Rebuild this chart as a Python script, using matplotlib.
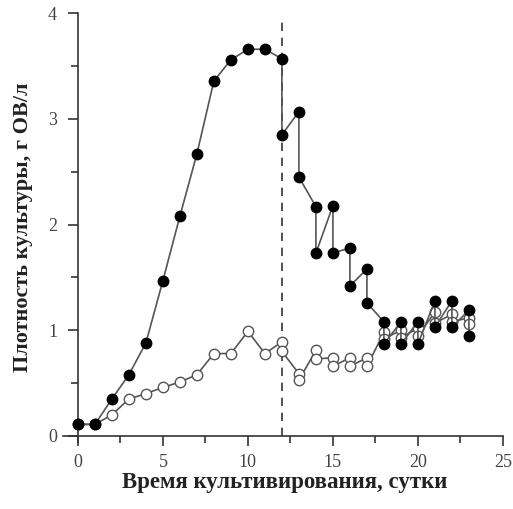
import numpy as np
import matplotlib
matplotlib.use('Agg')
import matplotlib.pyplot as plt
from matplotlib.ticker import MultipleLocator

# filled circles: days repeat after day 12 (before / after dilution)
days_filled = [0, 1, 2, 3, 4, 5, 6, 7, 8, 9, 10, 11, 12, 12, 13, 13, 14, 14,
               15, 15, 16, 16, 17, 17, 18, 18, 19, 19, 20, 20, 21, 21, 22, 22,
               23, 23]
dens_filled = [0.11, 0.11, 0.35, 0.58, 0.88, 1.47, 2.08, 2.67, 3.36, 3.56,
               3.66, 3.66, 3.57, 2.85, 3.07, 2.45, 2.17, 1.73, 2.18, 1.73,
               1.78, 1.42, 1.58, 1.26, 1.08, 0.87, 1.08, 0.87, 1.08, 0.87,
               1.28, 1.03, 1.28, 1.03, 1.19, 0.95]

# open circles
days_open = [0, 1, 2, 3, 4, 5, 6, 7, 8, 9, 10, 11, 12, 12, 13, 13, 14, 14,
             15, 15, 16, 16, 17, 17, 18, 18, 19, 19, 20, 20, 21, 21, 22, 22,
             23, 23]
dens_open = [0.11, 0.11, 0.20, 0.35, 0.40, 0.46, 0.51, 0.58, 0.78, 0.78,
             0.99, 0.78, 0.89, 0.80, 0.59, 0.53, 0.81, 0.73, 0.74, 0.66,
             0.74, 0.66, 0.74, 0.66, 0.98, 0.92, 1.00, 0.93, 1.02, 0.95,
             1.17, 1.07, 1.15, 1.08, 1.12, 1.06]

dilution_day = 12

plt.rcParams['font.family'] = ['Liberation Serif', 'DejaVu Serif']

fig = plt.figure(figsize=(5.13, 5.09), dpi=100)
ax = fig.add_axes([0.122, 0.131, 0.865, 0.847])

line_col = '#555555'
ax.plot([dilution_day, dilution_day], [0, 3.93], ls=(0, (5, 4)),
        color='#333333', lw=1.2, zorder=1)
ax.plot(days_open, dens_open, '-o', color=line_col, lw=1.2,
        mfc='white', mec='#555555', mew=1.0, ms=7.5, zorder=2)
ax.plot(days_filled, dens_filled, '-o', color=line_col, lw=1.2,
        mfc='black', mec='black', ms=7.5, zorder=3)

ax.set_xlim(-0.9, 25.2)
ax.set_ylim(-0.06, 4.02)

for s in ['top', 'right']:
    ax.spines[s].set_visible(False)
ax.spines['left'].set_position(('data', 0))
ax.spines['bottom'].set_position(('data', 0))
ax.spines['left'].set_bounds(-0.06, 4)
ax.spines['bottom'].set_bounds(-0.9, 25)
for s in ['left', 'bottom']:
    ax.spines[s].set_color('#333333')
    ax.spines[s].set_linewidth(1.2)

ax.xaxis.set_major_locator(MultipleLocator(5))
ax.xaxis.set_minor_locator(MultipleLocator(2.5))
ax.yaxis.set_major_locator(MultipleLocator(1))
ax.yaxis.set_minor_locator(MultipleLocator(0.5))
ax.tick_params(which='both', direction='out', color='#333333', width=1.2,
               labelsize=13, labelcolor='#444444')
ax.tick_params(which='major', length=7)
ax.tick_params(which='minor', length=5)
ax.tick_params(axis='x', pad=6)
ax.tick_params(axis='y', pad=8)

ax.set_xlabel('Время культивирования, сутки', fontsize=16.5,
              fontweight='bold', color='#222222', labelpad=1)
ax.set_ylabel('Плотность культуры, г ОВ/л', fontsize=16,
              fontweight='bold', color='#222222', labelpad=11)

fig.savefig('out.png', dpi=100)
